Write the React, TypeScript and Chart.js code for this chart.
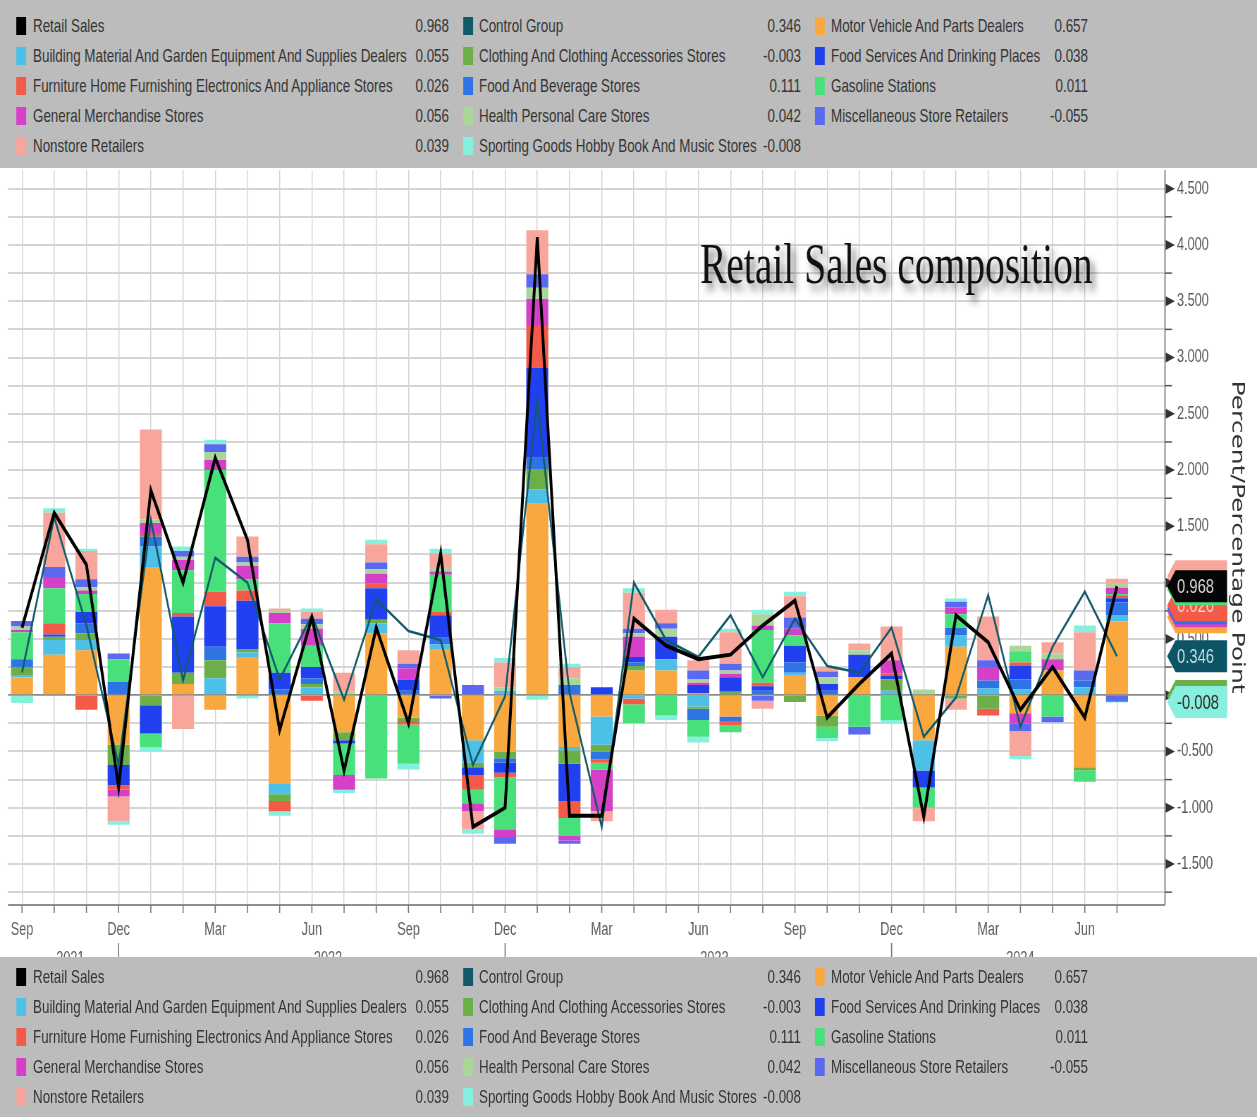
import React, { useEffect, useRef } from 'react';
import { Chart, registerables } from 'chart.js';
Chart.register(...registerables);

// ---------------- DATA ----------------
const months = ['Sep 2021','Oct 2021','Nov 2021','Dec 2021','Jan 2022','Feb 2022','Mar 2022','Apr 2022','May 2022','Jun 2022','Jul 2022','Aug 2022','Sep 2022','Oct 2022','Nov 2022','Dec 2022','Jan 2023','Feb 2023','Mar 2023','Apr 2023','May 2023','Jun 2023','Jul 2023','Aug 2023','Sep 2023','Oct 2023','Nov 2023','Dec 2023','Jan 2024','Feb 2024','Mar 2024','Apr 2024','May 2024','Jun 2024','Jul 2024'];
const shownMonths = ['Sep', 'Dec', 'Mar', 'Jun'];
const yTickLabels = [-1.5, -1.0, -0.5, 0, 0.5, 1.0, 1.5, 2.0, 2.5, 3.0, 3.5, 4.0, 4.5];

const retailSales = [0.60, 1.62, 1.16, -0.82, 1.82, 1.00, 2.11, 1.38, -0.31, 0.69, -0.67, 0.60, -0.25, 1.26, -1.17, -1.00, 4.07, -1.07, -1.07, 0.68, 0.44, 0.32, 0.36, 0.62, 0.84, -0.20, 0.10, 0.37, -1.08, 0.71, 0.47, -0.13, 0.25, -0.20, 0.968];
const controlGroup = [0.20, 1.58, 0.62, -0.62, 1.56, 0.13, 1.22, 1.00, 0.14, 0.71, -0.04, 0.85, 0.57, 0.49, -0.62, -0.01, 2.62, 0.02, -1.17, 1.00, 0.49, 0.34, 0.71, 0.16, 0.68, 0.26, 0.20, 0.60, -0.37, -0.02, 0.89, -0.28, 0.43, 0.92, 0.346];

const motorVehicle = [0.16, 0.36, 0.40, -0.44, 1.14, 0.10, -0.13, 0.34, -0.79, 0.00, -0.33, 0.55, -0.20, 0.41, -0.40, -0.50, 1.70, -0.46, -0.19, 0.22, 0.22, 0.02, -0.19, 0.00, 0.18, -0.18, 0.16, 0.00, -0.40, 0.43, 0.00, -0.16, 0.22, -0.64, 0.657];
const buildingMaterial = [0.02, 0.13, 0.09, 0.00, 0.18, 0.00, 0.15, 0.04, -0.09, 0.07, 0.00, 0.09, 0.00, 0.04, -0.20, 0.04, 0.13, -0.03, -0.25, -0.03, 0.10, -0.10, 0.00, 0.00, 0.02, 0.00, 0.00, 0.04, -0.27, 0.10, 0.06, 0.05, 0.00, 0.07, 0.055];
const clothing = [0.07, 0.03, 0.06, -0.18, -0.09, 0.10, 0.16, 0.03, -0.06, 0.03, -0.07, 0.03, -0.03, 0.00, -0.04, -0.06, 0.18, -0.12, -0.06, 0.04, 0.00, -0.02, 0.03, 0.00, -0.06, -0.10, 0.00, 0.10, 0.00, -0.03, -0.12, 0.00, 0.00, -0.03, -0.003];
const foodBeverage = [0.07, 0.00, 0.09, 0.12, 0.09, 0.00, 0.12, 0.00, 0.05, 0.05, 0.00, 0.00, 0.04, 0.06, 0.00, -0.04, 0.10, 0.09, -0.07, 0.03, 0.00, -0.10, -0.04, 0.04, 0.09, 0.04, 0.00, 0.00, 0.00, 0.07, 0.07, 0.09, 0.00, 0.06, 0.111];
const foodServices = [0.00, 0.02, 0.10, -0.18, -0.25, 0.50, 0.36, 0.43, 0.15, 0.10, -0.03, 0.28, 0.10, 0.20, -0.07, -0.09, 0.80, -0.33, 0.07, 0.05, 0.20, 0.07, 0.13, 0.04, 0.15, 0.06, 0.20, 0.03, -0.15, 0.00, 0.00, 0.12, 0.00, 0.00, 0.038];
const furniture = [0.00, 0.10, -0.13, -0.04, 0.03, 0.03, 0.13, 0.09, -0.09, -0.05, 0.00, 0.04, -0.03, 0.03, -0.13, -0.04, 0.37, -0.15, -0.03, -0.05, 0.00, 0.00, -0.04, 0.03, 0.00, 0.00, 0.00, 0.02, 0.00, 0.00, -0.06, 0.03, 0.00, 0.00, 0.026];
const gasoline = [0.24, 0.31, 0.16, 0.20, -0.12, 0.38, 1.08, 0.10, 0.44, 0.19, -0.28, -0.74, -0.35, 0.33, -0.12, -0.46, 0.00, -0.16, -0.06, -0.17, -0.18, -0.15, -0.06, 0.47, 0.09, -0.10, -0.28, -0.22, -0.18, 0.12, 0.00, 0.10, -0.19, -0.10, 0.011];
const generalMerch = [0.02, 0.10, 0.03, -0.06, 0.09, 0.09, 0.09, 0.12, 0.09, 0.15, -0.13, 0.09, 0.10, 0.03, -0.07, -0.07, 0.24, -0.04, -0.37, 0.18, 0.00, 0.02, 0.03, 0.04, 0.06, 0.00, 0.00, 0.12, 0.00, 0.06, 0.12, -0.09, 0.10, 0.00, 0.056];
const healthCare = [0.03, 0.00, 0.03, 0.00, 0.03, 0.03, 0.07, 0.03, 0.02, 0.04, 0.03, 0.04, 0.00, 0.04, 0.00, 0.03, 0.10, 0.06, 0.00, 0.03, 0.07, 0.03, 0.03, 0.10, 0.00, 0.06, 0.04, 0.00, 0.05, 0.00, 0.00, 0.05, 0.05, 0.00, 0.042];
const miscRetail = [0.05, 0.09, 0.07, 0.05, 0.00, 0.05, 0.07, 0.05, 0.00, 0.05, 0.00, 0.06, 0.04, -0.03, 0.09, -0.06, 0.12, -0.03, 0.00, 0.04, 0.05, 0.08, 0.06, -0.05, 0.10, 0.05, -0.07, 0.00, 0.00, 0.05, 0.06, -0.07, -0.05, 0.09, -0.055];
const nonstore = [0.00, 0.48, 0.25, -0.22, 0.80, -0.30, 0.00, 0.18, 0.02, 0.06, 0.17, 0.16, 0.12, 0.12, -0.16, 0.22, 0.39, 0.10, -0.09, 0.32, 0.12, 0.09, 0.28, -0.07, 0.19, 0.04, 0.06, 0.30, -0.12, -0.10, 0.39, -0.22, 0.10, 0.34, 0.039];
const sportingGoods = [-0.07, 0.04, 0.02, -0.03, -0.04, 0.04, 0.04, -0.03, -0.04, 0.03, -0.03, 0.04, -0.05, 0.04, -0.04, 0.04, -0.04, 0.03, 0.00, 0.04, -0.04, -0.05, 0.03, 0.04, 0.04, -0.03, 0.00, -0.03, 0.00, 0.03, 0.00, -0.03, 0.00, 0.06, -0.008];

// series table (stack order = order of this list)
const components = [
  { key: 'motor', name: 'Motor Vehicle And Parts Dealers', color: '#f9a83f', data: motorVehicle },
  { key: 'building', name: 'Building Material And Garden Equipment And Supplies Dealers', color: '#4cc0e7', data: buildingMaterial },
  { key: 'clothing', name: 'Clothing And Clothing Accessories Stores', color: '#6caf48', data: clothing },
  { key: 'foodBev', name: 'Food And Beverage Stores', color: '#2f74e4', data: foodBeverage },
  { key: 'foodSvc', name: 'Food Services And Drinking Places', color: '#2140ef', data: foodServices },
  { key: 'furniture', name: 'Furniture Home Furnishing Electronics And Appliance Stores', color: '#f45a48', data: furniture },
  { key: 'gasoline', name: 'Gasoline Stations', color: '#48e07b', data: gasoline },
  { key: 'genMerch', name: 'General Merchandise Stores', color: '#d640c8', data: generalMerch },
  { key: 'health', name: 'Health Personal Care Stores', color: '#abd69a', data: healthCare },
  { key: 'misc', name: 'Miscellaneous Store Retailers', color: '#5a69f0', data: miscRetail },
  { key: 'nonstore', name: 'Nonstore Retailers', color: '#f8a69b', data: nonstore },
  { key: 'sporting', name: 'Sporting Goods Hobby Book And Music Stores', color: '#87efdd', data: sportingGoods },
];
const lines = [
  { key: 'retail', name: 'Retail Sales', color: '#000000', data: retailSales },
  { key: 'control', name: 'Control Group', color: '#125a6a', data: controlGroup },
];
const legendColumns = [
  ['retail', 'building', 'furniture', 'genMerch', 'nonstore'],
  ['control', 'clothing', 'foodBev', 'health', 'sporting'],
  ['motor', 'foodSvc', 'gasoline', 'misc'],
];

// ---------------- LAYOUT ----------------
const SCREEN_W = 1257;
const K = 0.705; // horizontal compression of the whole picture
const W = Math.round(SCREEN_W / K);
const CANVAS_TOP = 168;
const CANVAS_H = 789;
const PANEL_BG = '#bcbcbc';
const sx = (v: number) => v / K;
const PLOT_L = sx(8), PLOT_R = sx(1165), PLOT_T = 2, PLOT_B = 737;
const X0 = sx(22), X34 = sx(1117);
const UNIT = (X34 - X0) / 34;
const X_MIN = -(X0 - PLOT_L) / UNIT;
const X_MAX = 34 + (PLOT_R - X34) / UNIT;
const Y_MIN = -1.864, Y_MAX = 4.666;

const allSeries: any = {};
[...components, ...lines].forEach((s) => (allSeries[s.key] = s));
const last = (arr: number[]) => arr[arr.length - 1];
const fmt = (v: number) => v.toFixed(3);

const FONT = '"Liberation Sans", Arial, sans-serif';

const decor = {
  id: 'decor',
  beforeDraw(chart: any) {
    const { ctx, width, height } = chart;
    ctx.save();
    ctx.fillStyle = '#ffffff';
    ctx.fillRect(0, 0, width, height);
    ctx.restore();
  },
  afterDraw(chart: any) {
    const { ctx, chartArea: a, scales } = chart;
    const x = scales.x, y = scales.y;
    ctx.save();
    // axis lines
    ctx.strokeStyle = '#8e8e8e';
    ctx.lineWidth = 2;
    ctx.beginPath();
    ctx.moveTo(a.left, a.bottom); ctx.lineTo(a.right, a.bottom);
    ctx.moveTo(a.right, a.top); ctx.lineTo(a.right, a.bottom);
    ctx.stroke();

    // x ticks & labels
    ctx.font = '18px ' + FONT;
    ctx.textAlign = 'center';
    months.forEach((m, i) => {
      const px = x.getPixelForValue(i);
      ctx.strokeStyle = '#777';
      ctx.lineWidth = 1.6;
      ctx.beginPath(); ctx.moveTo(px, a.bottom); ctx.lineTo(px, a.bottom + 8); ctx.stroke();
      const mon = m.split(' ')[0];
      if (shownMonths.includes(mon)) {
        ctx.fillStyle = '#5e5e5e';
        ctx.textBaseline = 'middle';
        ctx.fillText(mon, px, a.bottom + 25);
      }
      if (mon === 'Dec') {
        ctx.strokeStyle = '#777';
        ctx.beginPath(); ctx.moveTo(px, a.bottom + 38); ctx.lineTo(px, a.bottom + 60); ctx.stroke();
      }
    });
    // year labels (mostly hidden by the lower panel)
    const years = Array.from(new Set(months.map((m) => m.split(' ')[1])));
    ctx.textBaseline = 'top';
    ctx.fillStyle = '#5e5e5e';
    years.forEach((yr) => {
      const idx = months.map((m, i) => (m.endsWith(yr) ? i : -1)).filter((i) => i >= 0);
      const c = (idx[0] + idx[idx.length - 1]) / 2;
      ctx.fillText(yr, x.getPixelForValue(c), a.bottom + 45);
    });

    // y ticks, triangles & labels
    y.ticks.forEach((t: any) => {
      const py = y.getPixelForValue(t.value);
      const major = yTickLabels.some((v) => Math.abs(v - t.value) < 1e-6);
      if (major) {
        ctx.fillStyle = '#333';
        ctx.beginPath();
        ctx.moveTo(a.right + 1, py - 5);
        ctx.lineTo(a.right + 14, py);
        ctx.lineTo(a.right + 1, py + 5);
        ctx.closePath();
        ctx.fill();
        ctx.fillStyle = '#585858';
        ctx.textAlign = 'left';
        ctx.textBaseline = 'middle';
        ctx.font = '18px ' + FONT;
        ctx.fillText(fmt(t.value), a.right + 17, py);
      } else {
        ctx.strokeStyle = '#555';
        ctx.lineWidth = 1.5;
        ctx.beginPath(); ctx.moveTo(a.right, py); ctx.lineTo(a.right + 10, py); ctx.stroke();
      }
    });

    // y axis title
    ctx.save();
    ctx.translate(sx(1237), 369);
    ctx.rotate(Math.PI / 2);
    ctx.fillStyle = '#333';
    ctx.font = '25px "DejaVu Sans", sans-serif';
    ctx.textAlign = 'center';
    ctx.textBaseline = 'middle';
    ctx.fillText('Percent/Percentage Point', 0, 0);
    ctx.restore();

    // title
    ctx.save();
    ctx.font = '56px "Liberation Serif", "Times New Roman", serif';
    ctx.fillStyle = '#111';
    ctx.textAlign = 'left';
    ctx.textBaseline = 'alphabetic';
    ctx.shadowColor = 'rgba(0,0,0,0.55)';
    ctx.shadowBlur = 8;
    ctx.shadowOffsetX = 6;
    ctx.shadowOffsetY = 6;
    ctx.fillText('Retail Sales composition', sx(700), 115);
    ctx.restore();

    // last-value tags
    const tip = a.right + 3;
    const tag = (cy: number, bg: string, text?: string, fg?: string) => {
      const h = 32, aw = 12, right = sx(1227);
      ctx.fillStyle = bg;
      ctx.beginPath();
      ctx.moveTo(tip, cy);
      ctx.lineTo(tip + aw, cy - h / 2);
      ctx.lineTo(right, cy - h / 2);
      ctx.lineTo(right, cy + h / 2);
      ctx.lineTo(tip + aw, cy + h / 2);
      ctx.closePath();
      ctx.fill();
      if (text) {
        ctx.fillStyle = fg || '#ddd';
        ctx.font = '21px ' + FONT;
        ctx.textAlign = 'left';
        ctx.textBaseline = 'middle';
        ctx.fillText(text, tip + 14, cy + 1);
      }
    };
    const yr = y.getPixelForValue(last(retailSales));
    tag(yr + 31, allSeries.motor.color);
    tag(yr + 25, allSeries.genMerch.color);
    tag(yr + 22, allSeries.foodBev.color);
    tag(yr + 19, allSeries.furniture.color, fmt(last(furniture)), '#f6d0cc');
    tag(yr + 3, allSeries.gasoline.color);
    tag(yr - 10, allSeries.nonstore.color);
    tag(yr, '#050505', fmt(last(retailSales)), '#d8d8d8');
    tag(y.getPixelForValue(last(controlGroup)), '#0c5566', fmt(last(controlGroup)), '#c9dde2');
    const ys = y.getPixelForValue(last(sportingGoods));
    tag(ys, allSeries.clothing.color);
    tag(ys + 6, allSeries.sporting.color, fmt(last(sportingGoods)), '#2a2a2a');
    ctx.restore();
  },
};

function LegendPanel({ top, height, firstRow }: { top: number; height: number; firstRow: number }) {
  const swX = [sx(16), sx(463), sx(815)];
  const txX = [sx(33), sx(479), sx(831)];
  const valR = [sx(449), sx(801), sx(1088)];
  return (
    <div style={{ position: 'absolute', left: 0, top, width: W, height, background: PANEL_BG, fontFamily: FONT, fontSize: 19, color: '#353535', overflow: 'hidden' }}>
      {legendColumns.map((col, ci) =>
        col.map((key, ri) => {
          const s = allSeries[key];
          const cy = firstRow + ri * 30;
          return (
            <React.Fragment key={key}>
              <div style={{ position: 'absolute', left: swX[ci], top: cy - 9, width: 14, height: 18, background: s.color }} />
              <div style={{ position: 'absolute', left: txX[ci], top: cy - 12, height: 24, lineHeight: '24px', whiteSpace: 'nowrap' }}>{s.name}</div>
              <div style={{ position: 'absolute', right: W - valR[ci], top: cy - 12, height: 24, lineHeight: '24px', whiteSpace: 'nowrap' }}>{fmt(last(s.data))}</div>
            </React.Fragment>
          );
        })
      )}
    </div>
  );
}

export default function App() {
  const ref = useRef<HTMLCanvasElement | null>(null);
  useEffect(() => {
    if (!ref.current) return;
    const datasets: any[] = [
      ...lines.map((s, i) => ({
        type: 'line',
        label: s.name,
        data: months.map((_, j) => ({ x: j, y: s.data[j] })),
        borderColor: s.color,
        backgroundColor: s.color,
        borderWidth: i === 0 ? 4 : 2.6,
        pointRadius: 0,
        tension: 0,
        fill: false,
        stack: 'line-' + s.key,
        order: i,
      })),
      ...components.map((s) => ({
        type: 'bar',
        label: s.name,
        data: months.map((_, j) => ({ x: j, y: s.data[j] })),
        backgroundColor: s.color,
        borderWidth: 0,
        stack: 'bars',
        order: 5,
        barPercentage: 0.683,
        categoryPercentage: 1,
      })),
    ];
    const chart = new Chart(ref.current, {
      type: 'bar',
      data: { datasets },
      options: {
        responsive: false,
        animation: false,
        layout: { padding: { left: PLOT_L, right: W - PLOT_R, top: PLOT_T, bottom: CANVAS_H - PLOT_B } },
        plugins: { legend: { display: false }, tooltip: { enabled: false }, title: { display: false } },
        scales: {
          x: {
            type: 'linear', min: X_MIN, max: X_MAX, offset: false, stacked: true,
            grid: { color: '#d2d2d2', lineWidth: 1.4, drawTicks: false, offset: false },
            border: { display: false },
            ticks: { display: false },
            afterBuildTicks: (s: any) => { s.ticks = months.map((_, i) => ({ value: i })); },
          },
          y: {
            type: 'linear', position: 'right', min: Y_MIN, max: Y_MAX, stacked: true,
            grid: {
              color: (c: any) => (Math.abs(c.tick.value) < 1e-6 ? '#8a8a8a' : '#d5d5d5'),
              lineWidth: (c: any) => (Math.abs(c.tick.value) < 1e-6 ? 1.8 : 2),
              drawTicks: false,
            },
            border: { display: false },
            ticks: { display: false },
            afterBuildTicks: (s: any) => {
              const t: any[] = [];
              for (let k = -7; k <= 18; k++) t.push({ value: k * 0.25 });
              s.ticks = t;
            },
          },
        },
      } as any,
      plugins: [decor],
    });
    return () => chart.destroy();
  }, []);

  return (
    <div style={{ position: 'absolute', left: 0, top: 0, width: SCREEN_W, height: 1117, overflow: 'hidden', background: '#fff' }}>
      <div style={{ position: 'absolute', left: 0, top: 0, width: W, height: 1117, transform: `scaleX(${SCREEN_W / W})`, transformOrigin: '0 0' }}>
        <LegendPanel top={0} height={CANVAS_TOP} firstRow={26} />
        <canvas ref={ref} width={W} height={CANVAS_H} style={{ position: 'absolute', left: 0, top: CANVAS_TOP, width: W, height: CANVAS_H }} />
        <LegendPanel top={957} height={160} firstRow={20} />
      </div>
    </div>
  );
}
